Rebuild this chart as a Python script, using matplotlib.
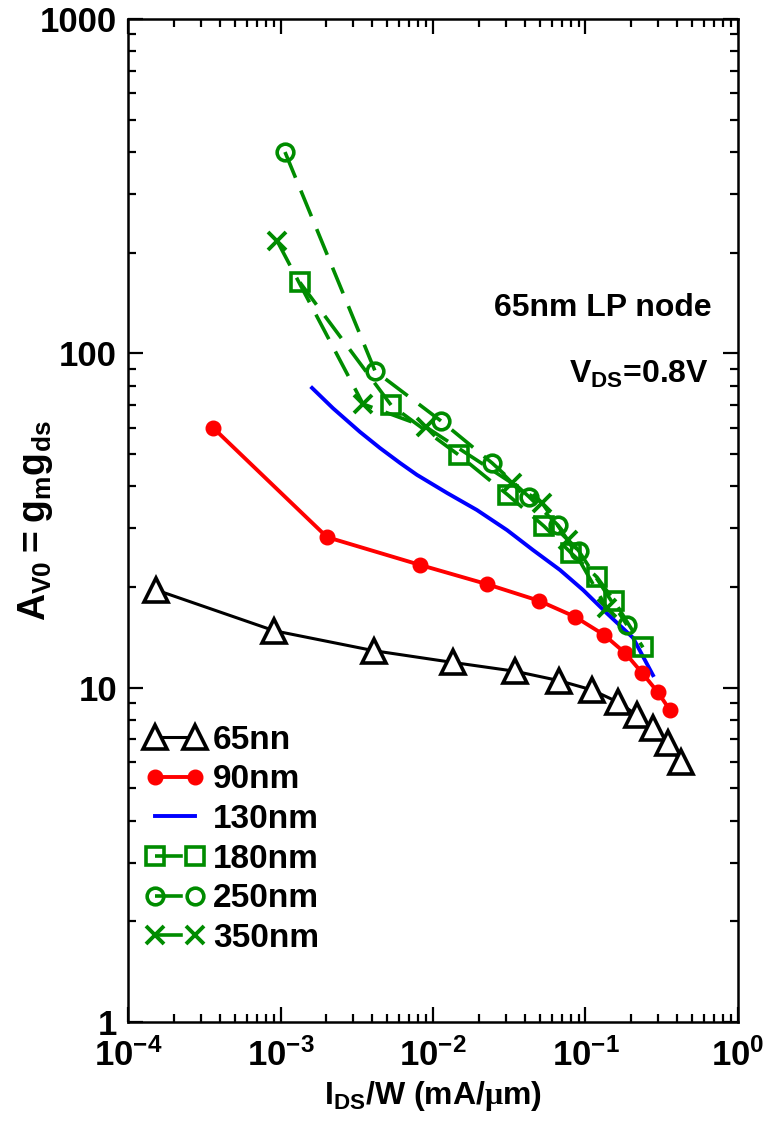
import matplotlib
matplotlib.use("Agg")
import matplotlib.pyplot as plt
from matplotlib.ticker import LogLocator, FuncFormatter, NullFormatter

plt.rcParams['font.family'] = ['Liberation Sans', 'DejaVu Sans']
plt.rcParams['font.weight'] = 'bold'
plt.rcParams['axes.labelweight'] = 'bold'
plt.rcParams['mathtext.fontset'] = 'custom'
plt.rcParams['mathtext.rm'] = 'Liberation Serif'
plt.rcParams['mathtext.bf'] = 'Liberation Sans:bold'
plt.rcParams['mathtext.default'] = 'bf'
plt.rcParams['lines.scale_dashes'] = False

# I_DS/W (mA/um) and intrinsic gain per technology node
x_65 = [1.53e-4, 9.1e-4, 4.1e-3, 0.0135, 0.0345, 0.067, 0.110, 0.163, 0.218, 0.277, 0.348, 0.423]
y_65 = [19.6, 14.8, 12.9, 11.9, 11.2, 10.5, 9.85, 9.06, 8.28, 7.57, 6.83, 5.98]

x_90 = [3.6e-4, 2.02e-3, 8.2e-3, 0.0226, 0.0495, 0.0853, 0.132, 0.182, 0.234, 0.298, 0.358]
y_90 = [60.0, 28.2, 23.3, 20.4, 18.2, 16.3, 14.4, 12.7, 11.1, 9.7, 8.57]

x_130 = [1.61e-3, 2.21e-3, 3.32e-3, 4.49e-3, 6.08e-3, 7.85e-3, 0.0124, 0.0194, 0.0306,
         0.0453, 0.068, 0.0964, 0.138, 0.205, 0.277]
y_130 = [78.8, 68.5, 58.2, 52.1, 47.0, 43.3, 38.2, 34.0, 29.6, 25.8, 22.5, 19.6, 16.7, 14.1, 10.9]

x_180 = [1.34e-3, 5.31e-3, 0.0148, 0.0310, 0.0535, 0.0804, 0.119, 0.154, 0.238]
y_180 = [163, 70.0, 49.6, 37.7, 30.4, 25.3, 21.4, 18.2, 13.2]

x_250 = [1.07e-3, 4.17e-3, 0.01127, 0.0244, 0.0427, 0.0661, 0.0906, 0.187]
y_250 = [400, 88.5, 62.8, 47.0, 37.2, 30.6, 25.6, 15.4]

x_350 = [9.5e-4, 3.48e-3, 9.0e-3, 0.0330, 0.0519, 0.0767, 0.138]
y_350 = [217, 70.5, 60.2, 40.9, 35.7, 27.6, 17.3]

green = '#008c00'
dash = (20, 10)

fig = plt.figure(figsize=(7.83, 11.44), dpi=100)
ax = fig.add_axes([0.1635, 0.1066, 0.779, 0.8768])

ax.plot(x_65, y_65, color='black', lw=2.2, marker='^', ms=17, mfc='white', mec='black',
        mew=2.6, label='65nn', zorder=5)
ax.plot(x_90, y_90, color='#ff0000', lw=2.8, marker='o', ms=10.5, mfc='#ff0000', mec='#ff0000',
        label='90nm', zorder=4)
ax.plot(x_130, y_130, color='#0000ff', lw=2.8, label='130nm', zorder=3)
ax.plot(x_180, y_180, color=green, lw=2.6, dashes=dash, marker='s', ms=13, mfc='none',
        mec=green, mew=2.6, label='180nm', zorder=6)
ax.plot(x_250, y_250, color=green, lw=2.6, dashes=dash, marker='o', ms=12, mfc='none',
        mec=green, mew=2.6, label='250nm', zorder=6)
ax.plot(x_350, y_350, color=green, lw=2.6, dashes=dash, marker='x', ms=13,
        mec=green, mew=2.8, label='350nm', zorder=6)

ax.set_xscale('log')
ax.set_yscale('log')
ax.set_xlim(1e-4, 1)
ax.set_ylim(1, 1000)

ax.xaxis.set_major_locator(LogLocator(base=10, numticks=10))
ax.xaxis.set_minor_locator(LogLocator(base=10, subs=range(2, 10), numticks=20))
ax.yaxis.set_major_locator(LogLocator(base=10, numticks=10))
ax.yaxis.set_minor_locator(LogLocator(base=10, subs=range(2, 10), numticks=20))
ax.yaxis.set_major_formatter(FuncFormatter(lambda v, p: '%d' % round(v)))
ax.xaxis.set_minor_formatter(NullFormatter())
ax.yaxis.set_minor_formatter(NullFormatter())

ax.tick_params(which='both', direction='in', top=True, right=True, labelsize=25, width=1.6)
ax.tick_params(which='major', length=11)
ax.tick_params(which='minor', length=5.5)
ax.tick_params(axis='x', which='major', pad=12)
ax.tick_params(axis='y', which='major', pad=8)
for s in ax.spines.values():
    s.set_linewidth(1.8)

ax.set_xlabel(r'$I_{DS}/W$ (mA/$\mathrm{\mu}$m)', fontsize=23, fontweight='bold', labelpad=4)
ax.set_ylabel(r'$A_{V0} = g_m g_{ds}$', fontsize=27)
ax.yaxis.set_label_coords(-0.12, 0.5)

ax.text(0.957, 0.712, '65nm LP node', transform=ax.transAxes, fontsize=23,
        fontweight='bold', ha='right', va='center')
ax.text(0.953, 0.646, r'$V_{DS}$=0.8V', transform=ax.transAxes, fontsize=23,
        fontweight='bold', ha='right', va='center')

leg = ax.legend(loc='upper left', bbox_to_anchor=(0.0, 0.313), frameon=False, numpoints=2,
                fontsize=24, handlelength=1.8, handletextpad=0.25, labelspacing=0.26,
                borderaxespad=0.3, borderpad=0.2)

fig.savefig('out.png', dpi=100)
